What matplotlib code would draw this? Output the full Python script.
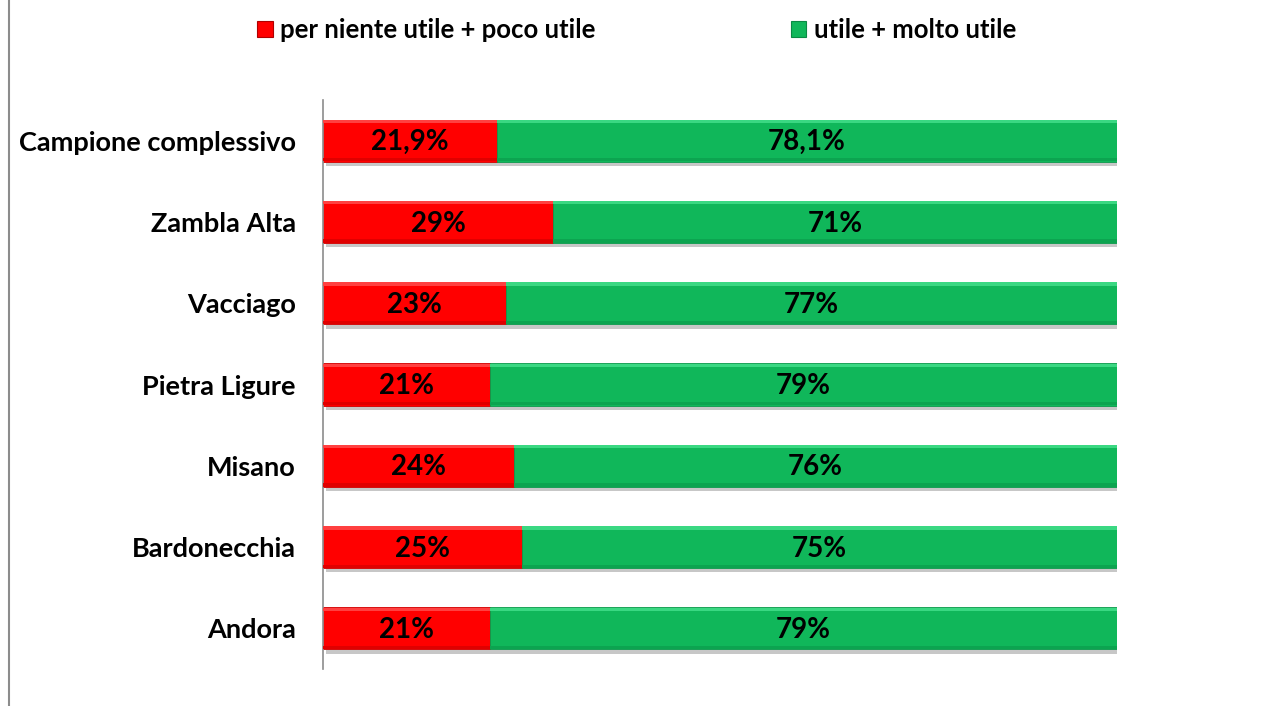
import matplotlib.pyplot as plt
import matplotlib.patheffects as pe
from matplotlib.lines import Line2D
from matplotlib.patches import Rectangle
import numpy as np

plt.rcParams['font.family'] = ['Lato', 'DejaVu Sans']

# data
categories = ['Campione complessivo', 'Zambla Alta', 'Vacciago', 'Pietra Ligure',
              'Misano', 'Bardonecchia', 'Andora']
poco_utile = [21.9, 29, 23, 21, 24, 25, 21]
molto_utile = [78.1, 71, 77, 79, 76, 75, 79]
labels_poco = ['21,9%', '29%', '23%', '21%', '24%', '25%', '21%']
labels_molto = ['78,1%', '71%', '77%', '79%', '76%', '75%', '79%']
series_names = ['per niente utile + poco utile', 'utile + molto utile']

red = '#ff0000'
green = '#10b75a'

fig = plt.figure(figsize=(12.71, 7.06), dpi=100)
ax = fig.add_axes([323 / 1271, 37 / 706, 794 / 1271, 569 / 706])

y = np.arange(len(categories))
h = 0.52
shadow = [pe.SimplePatchShadow(offset=(2, -3), shadow_rgbFace='#000000', alpha=0.22), pe.Normal()]

ax.barh(y, poco_utile, height=h, color=red, edgecolor='#d00000', linewidth=0.6,
        path_effects=shadow, zorder=2)
ax.barh(y, molto_utile, left=poco_utile, height=h, color=green, edgecolor='#0c9a4c',
        linewidth=0.6, path_effects=shadow, zorder=2)

# soft bevel: lighter strip along the top, darker along the bottom
ax.barh(y - h / 2 + 0.025, poco_utile, height=0.04, color='#ff4040', linewidth=0, zorder=3)
ax.barh(y - h / 2 + 0.025, molto_utile, left=poco_utile, height=0.04, color='#3ad882',
        linewidth=0, zorder=3)
ax.barh(y + h / 2 - 0.025, poco_utile, height=0.04, color='#e00000', linewidth=0, zorder=3)
ax.barh(y + h / 2 - 0.025, molto_utile, left=poco_utile, height=0.04, color='#0ca450',
        linewidth=0, zorder=3)

for i in range(len(categories)):
    ax.text(poco_utile[i] / 2, y[i] + 0.02, labels_poco[i], ha='center', va='center',
            fontsize=20, fontweight='bold', color='black', zorder=4)
    ax.text(poco_utile[i] + molto_utile[i] / 2, y[i] + 0.02, labels_molto[i], ha='center',
            va='center', fontsize=20, fontweight='bold', color='black', zorder=4)

ax.set_xlim(0, 100)
ax.set_ylim(len(categories) - 0.5, -0.5)
ax.set_yticks(y)
ax.set_yticklabels(categories, fontsize=19.5, fontweight='bold')
ax.tick_params(axis='y', length=0, pad=19.5)
ax.set_xticks([])
for s in ['top', 'right', 'bottom']:
    ax.spines[s].set_visible(False)
ax.spines['left'].set_color('#8c8c8c')
ax.spines['left'].set_linewidth(1.2)

# legend
handles = [Rectangle((0, 0), 1, 1, facecolor=red, edgecolor='#b00000', linewidth=0.8),
           Rectangle((0, 0), 1, 1, facecolor=green, edgecolor='#0a8a44', linewidth=0.8)]
fig.legend(handles, series_names, loc='center', bbox_to_anchor=(0.501, 1 - 30 / 706),
           ncol=2, frameon=False, handlelength=0.6, handleheight=0.6, handletextpad=0.3,
           columnspacing=7.6, prop={'size': 18.5, 'weight': 'bold'})

# frame line on the left
fig.add_artist(Line2D([8.5 / 1271, 8.5 / 1271], [0, 1], color='#8c8c8c', linewidth=1.5))

fig.savefig('out.png', dpi=100)
